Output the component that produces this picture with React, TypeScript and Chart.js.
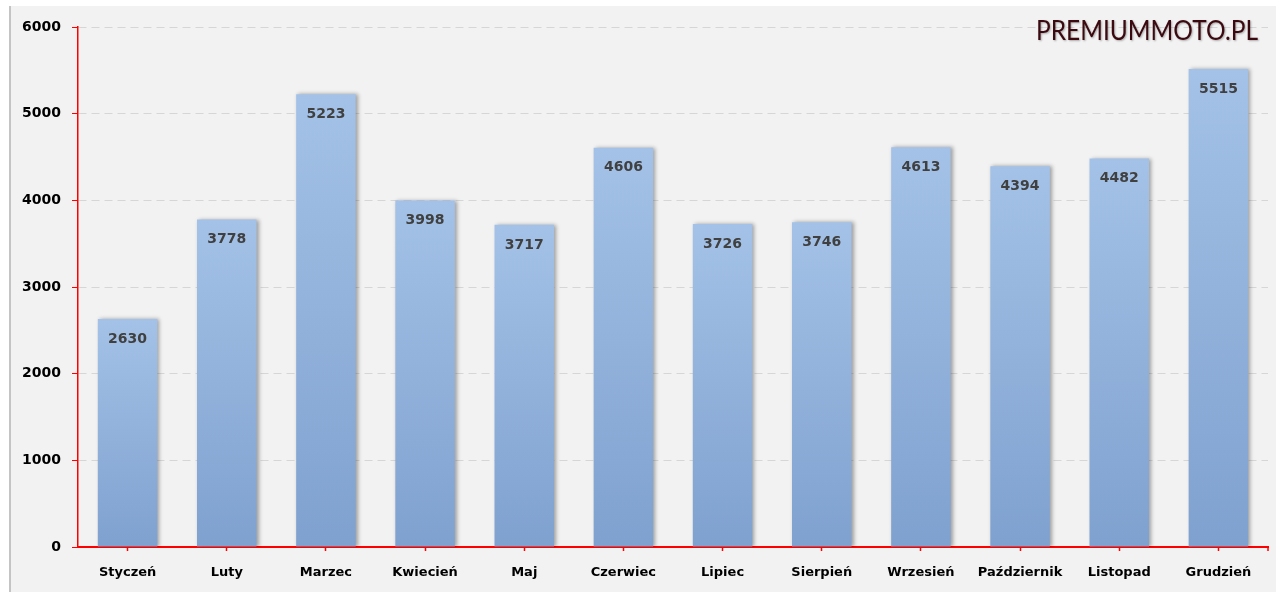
import React, { useEffect, useRef } from "react";
import { Chart, registerables } from "chart.js";

Chart.register(...registerables);

const months = ["Styczeń", "Luty", "Marzec", "Kwiecień", "Maj", "Czerwiec", "Lipiec", "Sierpień", "Wrzesień", "Październik", "Listopad", "Grudzień"];
const sales = [2630, 3778, 5223, 3998, 3717, 4606, 3726, 3746, 4613, 4394, 4482, 5515];
const yMin = 0;
const yMax = 6000;
const yStep = 1000;
const brand = "PREMIUMMOTO.PL";

const FONT = "'DejaVu Sans', sans-serif";

const shadowPlugin = {
  id: "barShadow",
  beforeDatasetDraw(chart: any) {
    const ctx = chart.ctx;
    ctx.save();
    ctx.shadowColor = "rgba(0,0,0,0.35)";
    ctx.shadowBlur = 4;
    ctx.shadowOffsetX = 2;
    ctx.shadowOffsetY = 0;
  },
  afterDatasetDraw(chart: any) {
    chart.ctx.restore();
  },
};

const labelPlugin = {
  id: "valueLabels",
  afterDatasetsDraw(chart: any) {
    const ctx = chart.ctx;
    const meta = chart.getDatasetMeta(0);
    const data = chart.data.datasets[0].data;
    ctx.save();
    ctx.font = `bold 14px ${FONT}`;
    ctx.fillStyle = "#404040";
    ctx.textAlign = "center";
    ctx.textBaseline = "middle";
    meta.data.forEach((bar: any, i: number) => {
      ctx.fillText(String(data[i]), bar.x, bar.y + 20);
    });
    // end tick at right edge of x axis
    const { right, bottom } = chart.chartArea;
    ctx.strokeStyle = "#ff0000";
    ctx.lineWidth = 1.5;
    ctx.beginPath();
    ctx.moveTo(right, bottom);
    ctx.lineTo(right, bottom + 4);
    ctx.stroke();
    // brand text
    ctx.font = `26px Lato, sans-serif`;
    ctx.textAlign = "center";
    ctx.textBaseline = "alphabetic";
    ctx.shadowColor = "rgba(0,0,0,0.3)";
    ctx.shadowBlur = 2;
    ctx.shadowOffsetX = 1;
    ctx.shadowOffsetY = 1;
    ctx.fillStyle = "#3b0a10";
    ctx.fillText(brand, 1136, 34, 222);
    ctx.restore();
  },
};

export default function App() {
  const ref = useRef<HTMLCanvasElement>(null);
  useEffect(() => {
    const canvas = ref.current!;
    const chart = new Chart(canvas, {
      type: "bar",
      data: {
        labels: months,
        datasets: [
          {
            data: sales,
            barPercentage: 0.6,
            categoryPercentage: 1,
            backgroundColor: (c: any) => {
              const ch = c.chart;
              const area = ch.chartArea;
              const ys = ch.scales.y;
              if (!area || !ys || c.raw == null) return "#92b3de";
              const top = ys.getPixelForValue(c.raw);
              const g = ch.ctx.createLinearGradient(0, top, 0, area.bottom);
              g.addColorStop(0, "#a4c2e7");
              g.addColorStop(1, "#7fa1cf");
              return g;
            },
            borderWidth: 0,
          },
        ],
      },
      options: {
        animation: false,
        responsive: false,
        maintainAspectRatio: false,
        layout: { padding: { top: 21, right: 8, left: 0, bottom: 0 } },
        plugins: {
          legend: { display: false },
          tooltip: { enabled: false },
        },
        scales: {
          x: {
            grid: {
              offset: false,
              drawOnChartArea: false,
              tickLength: 4,
              tickColor: "#ff0000",
              tickWidth: 1.5,
            },
            border: { color: "#ff0000", width: 2 },
            ticks: {
              color: "#000000",
              font: { family: FONT, size: 13, weight: "bold" },
              padding: 14,
              maxRotation: 0,
              autoSkip: false,
            },
            afterFit(scale: any) {
              scale.height = 45;
            },
          },
          y: {
            min: yMin,
            max: yMax,
            grid: {
              color: "#d6d6d6",
              tickColor: "#ff0000",
              tickLength: 6,
              lineWidth: 1,
            },
            border: { color: "#ff0000", width: 1.5, dash: [8, 5] },
            ticks: {
              stepSize: yStep,
              color: "#000000",
              font: { family: FONT, size: 14, weight: "bold" },
              padding: 11,
              callback: (v: any) => String(v),
            },
            afterFit(scale: any) {
              scale.width = 67;
            },
          },
        },
      },
      plugins: [shadowPlugin, labelPlugin],
    });
    return () => chart.destroy();
  }, []);

  return (
    <div style={{ position: "fixed", left: 0, top: 0, width: 1276, height: 592, background: "#ffffff" }}>
      <div
        style={{
          position: "absolute",
          left: 9,
          top: 6,
          width: 1267,
          height: 586,
          background: "#f2f2f2",
          borderLeft: "2px solid #c4c4c4",
          boxSizing: "border-box",
        }}
      >
        <canvas ref={ref} width={1265} height={586} style={{ display: "block" }} />
      </div>
    </div>
  );
}
